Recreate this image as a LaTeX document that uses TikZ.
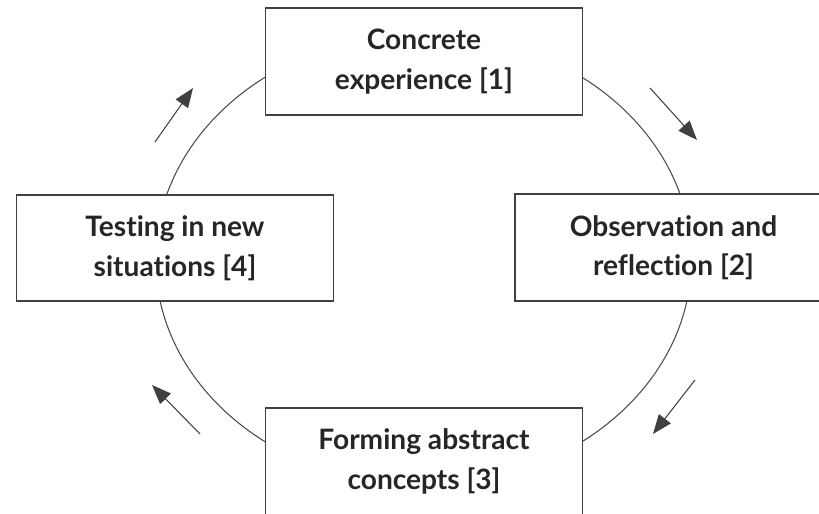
\documentclass[tikz,border=0pt]{standalone}
\usepackage{fontspec}
\setmainfont{Lato}[Ligatures={NoCommon,NoRare,NoDiscretionary}]
\usetikzlibrary{arrows.meta}
\tikzset{
	stage/.style={draw=black!75, line width=1.1pt, fill=white, minimum width=6.34cm, minimum height=2.13cm,
		align=center, inner sep=0pt, text=black!85, font=\bfseries\fontsize{16}{22.5}\selectfont},
	cyclearrow/.style={draw=black!75, line width=0.6pt, -{Triangle[length=11pt,width=8.5pt]}},
}

\begin{document}
\begin{tikzpicture}[x=0.02cm, y=0.02cm]% learning cycle
	\useasboundingbox (0,0) rectangle (819,514);
	\draw[black!70, line width=0.6pt] (423.5,254.5) ellipse (5.36cm and 4.52cm);

	\node[stage] (concrete) at (424,452.5) {Concrete\\experience [1]};
	\node[stage] (reflect) at (673.5,266.5) {Observation and\\reflection [2]};
	\node[stage] (abstract) at (424,52.5) {Forming abstract\\concepts [3]};
	\node[stage] (testing) at (175,266) {Testing in new\\situations [4]};

	% short arrows outside the cycle
	\coordinate (tr-from) at (650,426); \coordinate (tr-to) at (697,374);
	\coordinate (br-from) at (695,134); \coordinate (br-to) at (653,80);
	\coordinate (bl-from) at (200,80);  \coordinate (bl-to) at (152,129);
	\coordinate (tl-from) at (155,372); \coordinate (tl-to) at (193,426);
	\draw[cyclearrow] (tr-from) -- (tr-to);
	\draw[cyclearrow] (br-from) -- (br-to);
	\draw[cyclearrow] (bl-from) -- (bl-to);
	\draw[cyclearrow] (tl-from) -- (tl-to);
\end{tikzpicture}
\end{document}
